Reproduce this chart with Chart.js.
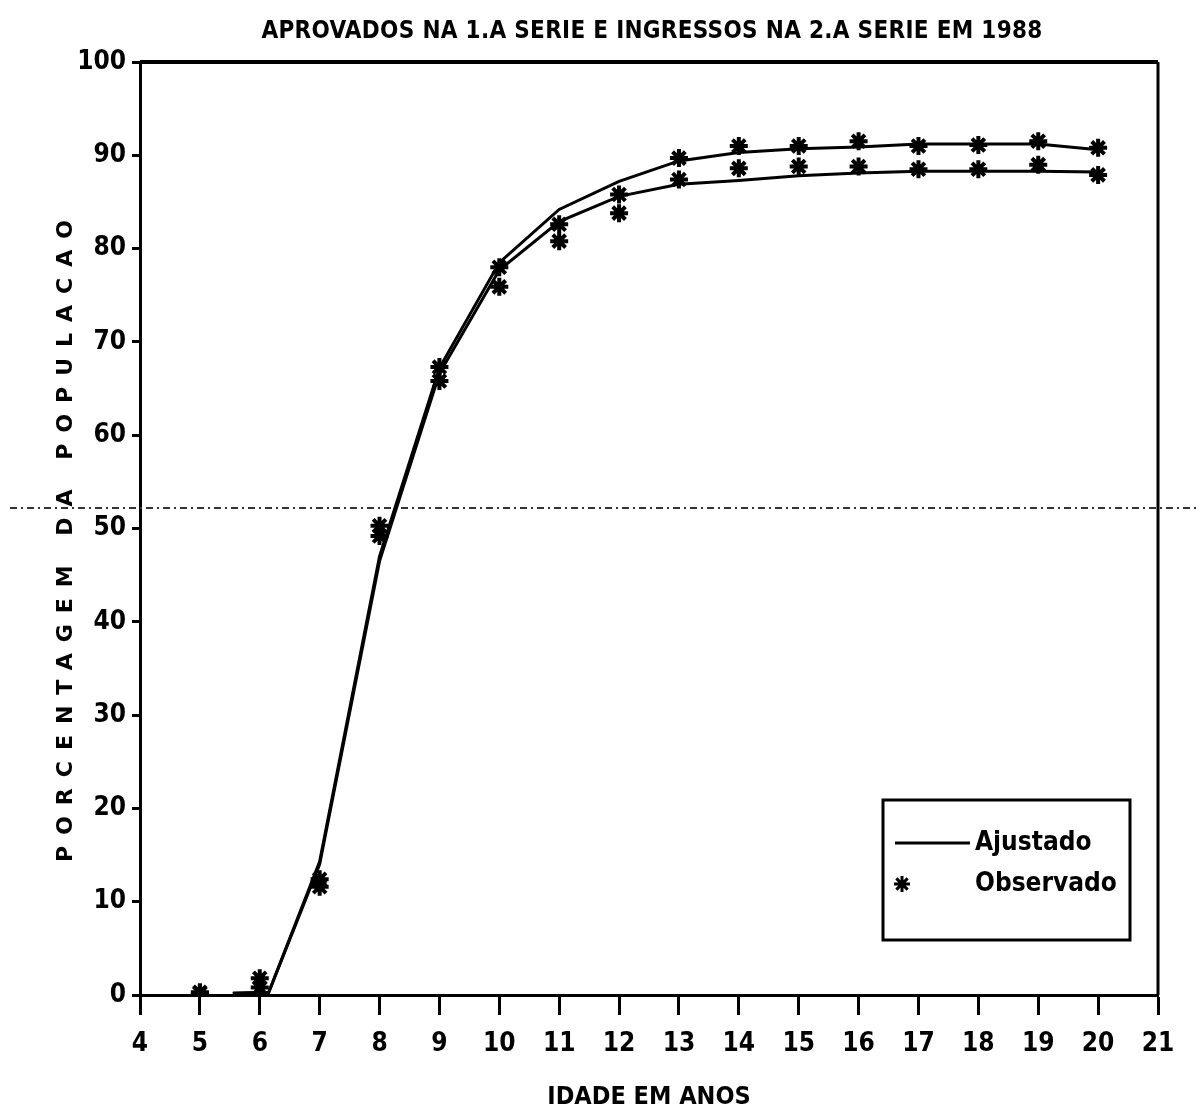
<!DOCTYPE html>
<html>
<head>
<meta charset="utf-8">
<script src="https://cdn.jsdelivr.net/npm/chart.js@4.4.1/dist/chart.umd.min.js"></script>
<style>
  html, body { margin:0; padding:0; background:#fff; }
  #wrap { width:1200px; height:1116px; }
</style>
</head>
<body>
<div id="wrap"><canvas id="chart" width="1200" height="1116"></canvas></div>
<script>
// idades (anos)
const fitAges = [5.55, 6.15, 7, 8, 9, 10, 11, 12, 13, 14, 15, 16, 17, 18, 19, 20];
const obsAges = [5, 6, 7, 8, 9, 10, 11, 12, 13, 14, 15, 16, 17, 18, 19, 20];

// curvas ajustadas
const fitUpper = [0.2, 0.3, 14.3, 47.0, 67.2, 78.5, 84.2, 87.2, 89.4, 90.3, 90.7, 90.9, 91.2, 91.2, 91.2, 90.6];
const fitLower = [0.2, 0.3, 14.0, 46.5, 66.6, 77.7, 82.9, 85.6, 86.9, 87.3, 87.8, 88.1, 88.3, 88.3, 88.3, 88.2];

// valores observados
const obsUpper = [0.3, 1.8, 12.4, 50.3, 67.3, 78.0, 82.6, 85.8, 89.7, 91.0, 91.0, 91.5, 91.0, 91.1, 91.5, 90.8];
const obsLower = [0.2, 0.8, 11.6, 49.2, 65.8, 75.9, 80.8, 83.8, 87.4, 88.6, 88.8, 88.8, 88.5, 88.5, 89.0, 87.9];

const refLine = 52.2; // linha pontilhada horizontal

const FONT = "'Liberation Sans Narrow', 'DejaVu Sans Condensed', sans-serif";

function pts(xs, ys){ return xs.map((x,i)=>({x:x, y:ys[i]})); }

const framePlugin = {
  id:"frame",
  beforeDatasetsDraw(chart){
    const {ctx, chartArea:a, scales} = chart;
    ctx.save();
    ctx.strokeStyle="#000";
    ctx.lineWidth=4;
    ctx.beginPath(); ctx.moveTo(a.left, a.top); ctx.lineTo(a.right, a.top); ctx.stroke();
    ctx.lineWidth=3;
    ctx.beginPath(); ctx.moveTo(a.right, a.top); ctx.lineTo(a.right, a.bottom); ctx.stroke();
    // linha pontilhada
    let y = scales.y.getPixelForValue(refLine);
    ctx.strokeStyle="#333";
    ctx.lineWidth=2;
    ctx.setLineDash([7,4,2,4]);
    ctx.beginPath(); ctx.moveTo(10, y); ctx.lineTo(1200, y); ctx.stroke();
    ctx.restore();
  },
  afterDraw(chart){
    const {ctx, chartArea:a} = chart;
    ctx.save();
    ctx.fillStyle="#000";
    ctx.textAlign="center";
    ctx.textBaseline="middle";
    // titulo
    ctx.font = "bold 24px " + FONT;
    ctx.letterSpacing = "0.3px";
    ctx.fillText("APROVADOS NA 1.A SERIE E INGRESSOS NA 2.A SERIE EM 1988", (a.left+a.right)/2 + 3, 32);
    // titulo do eixo y
    ctx.translate(66, (a.top+a.bottom)/2 + 7);
    ctx.rotate(-Math.PI/2);
    ctx.font = "bold 22px 'DejaVu Sans', sans-serif";
    ctx.letterSpacing = "11px";
    ctx.fillText("PORCENTAGEM DA POPULACAO", 0, 0);
    ctx.restore();

    // legenda
    ctx.save();
    let bx = a.right-275, by = a.bottom-195, bw = 247, bh = 140;
    ctx.fillStyle="#fff";
    ctx.fillRect(bx,by,bw,bh);
    ctx.strokeStyle="#000";
    ctx.lineWidth=3;
    ctx.strokeRect(bx,by,bw,bh);
    ctx.beginPath(); ctx.moveTo(bx+12, by+43); ctx.lineTo(bx+87, by+43); ctx.stroke();
    ctx.font = "bold 26px " + FONT;
    ctx.fillStyle="#000";
    ctx.textBaseline="middle";
    ctx.fillText("Ajustado", bx+92, by+43);
    ctx.fillText("Observado", bx+92, by+84);
    Chart.helpers.drawPoint(ctx, { pointStyle:"star", radius:8, borderWidth:4, rotation:0 }, bx+19, by+84);
    ctx.restore();
  }
};

const ctx = document.getElementById("chart").getContext("2d");
new Chart(ctx, {
  type:"line",
  data:{
    datasets:[
      { label:"Ajustado", data:pts(fitAges, fitUpper), borderColor:"#000", borderWidth:3,
        pointRadius:0, tension:0, fill:false },
      { label:"Ajustado", data:pts(fitAges, fitLower), borderColor:"#000", borderWidth:3,
        pointRadius:0, tension:0, fill:false },
      { label:"Observado", data:pts(obsAges, obsUpper), showLine:false, pointStyle:"star",
        pointRadius:9, pointBorderWidth:4, borderColor:"#000", backgroundColor:"#000" },
      { label:"Observado", data:pts(obsAges, obsLower), showLine:false, pointStyle:"star",
        pointRadius:9, pointBorderWidth:4, borderColor:"#000", backgroundColor:"#000" }
    ]
  },
  options:{
    responsive:false,
    animation:false,
    layout:{ padding:{ left:40, right:42, top:62, bottom:0 } },
    plugins:{
      legend:{ display:false },
      tooltip:{ enabled:false },
      title:{ display:false }
    },
    scales:{
      x:{
        type:"linear", min:4, max:21,
        ticks:{ stepSize:1, color:"#000", font:{ family:FONT, size:26, weight:"bold" }, padding:14 },
        grid:{ drawOnChartArea:false, tickLength:20, tickWidth:3, color:"#000" },
        border:{ color:"#000", width:3 },
        title:{ display:true, text:"IDADE EM ANOS", color:"#000",
          font:{ family:FONT, size:25, weight:"bold" }, padding:{ top:16 } },
        afterFit(s){ s.height = 121; }
      },
      y:{
        min:0, max:100,
        ticks:{ stepSize:10, color:"#000", font:{ family:FONT, size:26, weight:"bold" }, padding:6 },
        grid:{ drawOnChartArea:false, tickLength:8, tickWidth:3, color:"#000" },
        border:{ color:"#000", width:3 },
        afterFit(s){ s.width = 100; }
      }
    }
  },
  plugins:[framePlugin]
});
</script>
</body>
</html>
